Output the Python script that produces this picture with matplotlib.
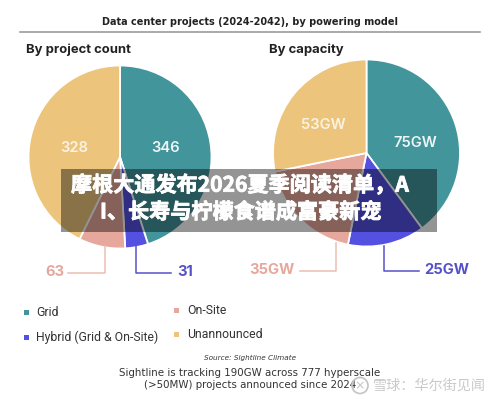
import matplotlib
matplotlib.use('Agg')
import matplotlib.pyplot as plt
import matplotlib.patheffects as pe
from matplotlib.patches import Rectangle, Circle

W, H = 500, 401

categories = ['Grid', 'Hybrid (Grid & On-Site)', 'On-Site', 'Unannounced']
project_count = [346, 31, 63, 328]
capacity_gw = [75, 25, 35, 53]
colors = ['#42959b', '#5450e0', '#e6a79c', '#ecc47c']
hybrid_text = '#5552c8'

CJK = ['Noto Sans CJK SC', 'DejaVu Sans']

fig = plt.figure(figsize=(5, 4.01), dpi=100, facecolor='white')


def pie_axes(cx, cy, r):
    # pixel box (y from top) to figure fractions
    return fig.add_axes([(cx - r) / W, 1 - (cy + r) / H, 2 * r / W, 2 * r / H])


ax1 = pie_axes(120, 157, 91.5)
ax1.pie(project_count, colors=colors, startangle=90, counterclock=False, radius=1,
        wedgeprops=dict(edgecolor='white', linewidth=1.3))
ax1.set_xlim(-1, 1)
ax1.set_ylim(-1, 1)

ax2 = pie_axes(366.5, 153, 93.5)
ax2.pie(capacity_gw, colors=colors, startangle=90, counterclock=False, radius=1,
        wedgeprops=dict(edgecolor='white', linewidth=1.3))
ax2.set_xlim(-1, 1)
ax2.set_ylim(-1, 1)

# overlay in pixel coordinates for all the annotation work
ov = fig.add_axes([0, 0, 1, 1], facecolor='none')
ov.set_xlim(0, W)
ov.set_ylim(H, 0)
ov.axis('off')

ov.text(250, 22, 'Data center projects (2024-2042), by powering model', ha='center', va='center',
        fontsize=7.05, fontweight='bold', color='#222222', family='DejaVu Sans')
ov.plot([20, 480], [32, 32], color='#8f9396', lw=1.1)
ov.text(26, 50, 'By project count', ha='left', va='center', fontsize=9.4, fontweight='bold',
        color='#222222', family='Inter')
ov.text(269, 50, 'By capacity', ha='left', va='center', fontsize=9.4, fontweight='bold',
        color='#222222', family='Inter')

# values inside the big slices
ov.text(74.5, 148, str(project_count[3]), ha='center', va='center', fontsize=10.6, fontweight='semibold',
        color='#fbf3e2', family='Inter')
ov.text(165.5, 148, str(project_count[0]), ha='center', va='center', fontsize=10.6, fontweight='semibold',
        color='#eef6f6', family='Inter')
ov.text(323, 125, f'{capacity_gw[3]}GW', ha='center', va='center', fontsize=10.6, fontweight='semibold',
        color='#fbf3e2', family='Inter')
ov.text(415.5, 143, f'{capacity_gw[0]}GW', ha='center', va='center', fontsize=10.6, fontweight='semibold',
        color='#eef6f6', family='Inter')

# leader lines and outside labels
ov.plot([104.5, 104.5, 68], [246, 272.5, 272.5], color='#ecbdb4', lw=1.1)
ov.plot([135.5, 135.5, 171], [246, 272.5, 272.5], color=hybrid_text, lw=1.1)
ov.plot([336, 336, 300], [243, 270.5, 270.5], color='#ecbdb4', lw=1.1)
ov.plot([383.5, 383.5, 419], [246, 270.5, 270.5], color=hybrid_text, lw=1.1)
ov.text(54.5, 272, str(project_count[2]), ha='center', va='center', fontsize=10.6, fontweight='bold',
        color=colors[2], family='Inter')
ov.text(185, 272, str(project_count[1]), ha='center', va='center', fontsize=10.6, fontweight='bold',
        color=hybrid_text, family='Inter')
ov.text(272, 270, f'{capacity_gw[2]}GW', ha='center', va='center', fontsize=10.6, fontweight='bold',
        color=colors[2], family='Inter')
ov.text(446.5, 269.5, f'{capacity_gw[1]}GW', ha='center', va='center', fontsize=10.6, fontweight='bold',
        color=hybrid_text, family='Inter')

# legend
legend_pos = [(26, 312), (26, 337.5), (176.5, 310.5), (176.5, 334)]
for name, col, (x, y) in zip(categories, colors, legend_pos):
    ov.add_patch(Rectangle((x - 2.5, y - 2.5), 5, 5, color=col, lw=0))
    ov.text(x + 10.5, y, name, ha='left', va='center', fontsize=8.8, color='#333333', family='Roboto')

# source and footnote
ov.text(250, 357.5, 'Source: Sightline Climate', ha='center', va='center', fontsize=5.2,
        style='italic', color='#333333', family='DejaVu Sans')
ov.text(250, 373, 'Sightline is tracking 190GW across 777 hyperscale', ha='center', va='center',
        fontsize=7.4, color='#333333', family='DejaVu Sans')
ov.text(250, 384.5, '(>50MW) projects announced since 2024', ha='center', va='center',
        fontsize=7.4, color='#333333', family='DejaVu Sans')

# headline banner over the charts
ov.add_patch(Rectangle((61, 169), 376, 63, color='black', alpha=0.42, lw=0, zorder=5))
stroke = [pe.withStroke(linewidth=0.6, foreground='white')]
ov.text(71, 185, '摩根大通发布2026夏季阅读清单，A', ha='left', va='center', fontsize=15.2,
        fontweight='bold', color='white', family=CJK, zorder=6, path_effects=stroke)
ov.text(100, 212, 'I、长寿与柠檬食谱成富豪新宠', ha='left', va='center', fontsize=15.2,
        fontweight='bold', color='white', family=CJK, zorder=6, path_effects=stroke)

# watermark
ov.add_patch(Circle((360, 385.5), 8, facecolor='none', edgecolor='#c4c4c4', lw=1.2, zorder=7))
ov.text(360, 385.5, '\u00d7', ha='center', va='center', fontsize=9, color='#c4c4c4', zorder=7)
ov.text(373, 386, '雪球：华尔街见闻', ha='left', va='center', fontsize=10.2, color='#c4c4c4',
        alpha=0.9, family=CJK, zorder=7)

fig.savefig('out.png', dpi=100)
